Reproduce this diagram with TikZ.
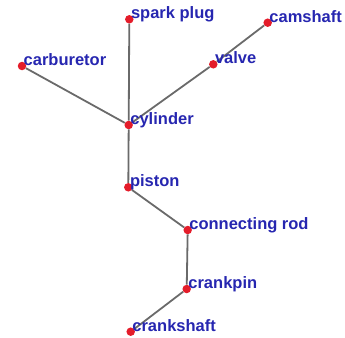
\documentclass[tikz,border=0pt]{standalone}
\usepackage{fontspec}
\setmainfont{Liberation Sans}
\definecolor{dotred}{HTML}{E41C2A}
\definecolor{lblue}{HTML}{2626B0}
\definecolor{edgegray}{HTML}{6A6A6A}
\begin{document}
\begin{tikzpicture}[x=1pt,y=-1pt,
  dot/.style={circle,fill=dotred,inner sep=0pt,minimum size=8.5pt},
  lbl/.style={anchor=base west,text=lblue,inner sep=0pt,font=\fontsize{16.5}{19}\selectfont\bfseries},
  link/.style={draw=edgegray,line width=1.8pt}]
\useasboundingbox (0,0) rectangle (345,337);
\node[dot] (spark) at (129.3,19.3) {};
\node[dot] (cam) at (267.7,22.7) {};
\node[dot] (carb) at (22,66) {};
\node[dot] (valve) at (213.3,64.3) {};
\node[dot] (cyl) at (128.7,125) {};
\node[dot] (piston) at (128.3,187.3) {};
\node[dot] (rod) at (187.7,230) {};
\node[dot] (pin) at (186.7,289) {};
\node[dot] (shaft) at (130.7,331.7) {};
\path[link] (spark) -- (cyl);
\path[link] (carb) -- (cyl);
\path[link] (valve) -- (cyl);
\path[link] (cam) -- (valve);
\path[link] (cyl) -- (piston);
\path[link] (piston) -- (rod);
\path[link] (rod) -- (pin);
\path[link] (pin) -- (shaft);
\node[lbl] (tspark) at ([xshift=1.5pt,yshift=0.5pt]spark.center) {spark plug};
\node[lbl] (tcam) at ([xshift=1.5pt,yshift=0.5pt]cam.center) {camshaft};
\node[lbl] (tcarb) at ([xshift=1.5pt,yshift=0.5pt]carb.center) {carburetor};
\node[lbl] (tvalve) at ([xshift=1.5pt,yshift=0.5pt]valve.center) {valve};
\node[lbl] (tcyl) at ([xshift=1.5pt,yshift=0.5pt]cyl.center) {cylinder};
\node[lbl] (tpiston) at ([xshift=1.5pt,yshift=0.5pt]piston.center) {piston};
\node[lbl] (trod) at ([xshift=1.5pt,yshift=0.5pt]rod.center) {connecting rod};
\node[lbl] (tpin) at ([xshift=1.5pt,yshift=0.5pt]pin.center) {crankpin};
\node[lbl] (tshaft) at ([xshift=1.5pt,yshift=0.5pt]shaft.center) {crankshaft};
\end{tikzpicture}
\end{document}
